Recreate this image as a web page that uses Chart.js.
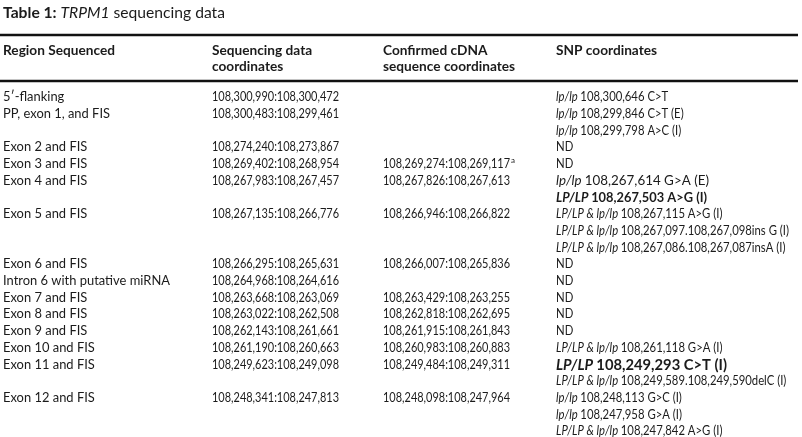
<!DOCTYPE html>
<html>
<head>
<meta charset="utf-8">
<script src="https://cdn.jsdelivr.net/npm/chart.js"></script>
<style>
html, body { margin: 0; padding: 0; background: #fff; }
#wrap { width: 802px; height: 437px; }
</style>
</head>
<body>
<div id="wrap"><canvas id="tbl"></canvas></div>
<script>
// title parts: label, gene, rest
var titleParts = ["Table 1:", "TRPM1", "sequencing data"];
// column headers (one or two lines)
var headers = [
    ["Region Sequenced"],
    ["Sequencing data", "coordinates"],
    ["Confirmed cDNA", "sequence coordinates"],
    ["SNP coordinates"]
];
// rows
var regions = [
    "5′-flanking",
    "PP, exon 1, and FIS",
    "Exon 2 and FIS",
    "Exon 3 and FIS",
    "Exon 4 and FIS",
    "Exon 5 and FIS",
    "Exon 6 and FIS",
    "Intron 6 with putative miRNA",
    "Exon 7 and FIS",
    "Exon 8 and FIS",
    "Exon 9 and FIS",
    "Exon 10 and FIS",
    "Exon 11 and FIS",
    "Exon 12 and FIS"
];
var seqCoords = [
    "108,300,990:108,300,472",
    "108,300,483:108,299,461",
    "108,274,240:108,273,867",
    "108,269,402:108,268,954",
    "108,267,983:108,267,457",
    "108,267,135:108,266,776",
    "108,266,295:108,265,631",
    "108,264,968:108,264,616",
    "108,263,668:108,263,069",
    "108,263,022:108,262,508",
    "108,262,143:108,261,661",
    "108,261,190:108,260,663",
    "108,249,623:108,249,098",
    "108,248,341:108,247,813"
];
var cdnaCoords = [
    "",
    "",
    "",
    "108,269,274:108,269,117",
    "108,267,826:108,267,613",
    "108,266,946:108,266,822",
    "108,266,007:108,265,836",
    "",
    "108,263,429:108,263,255",
    "108,262,818:108,262,695",
    "108,261,915:108,261,843",
    "108,260,983:108,260,883",
    "108,249,484:108,249,311",
    "108,248,098:108,247,964"
];
var cdnaNotes = ["", "", "", "a", "", "", "", "", "", "", "", "", "", ""];
var snpCoords = [
    ["lp/lp 108,300,646 C>T"],
    ["lp/lp 108,299,846 C>T (E)", "lp/lp 108,299,798 A>C (I)"],
    ["ND"],
    ["ND"],
    ["lp/lp 108,267,614 G>A (E)", "LP/LP 108,267,503 A>G (I)"],
    ["LP/LP & lp/lp 108,267,115 A>G (I)",
     "LP/LP & lp/lp 108,267,097.108,267,098ins G (I)",
     "LP/LP & lp/lp 108,267,086.108,267,087insA (I)"],
    ["ND"],
    ["ND"],
    ["ND"],
    ["ND"],
    ["ND"],
    ["LP/LP & lp/lp 108,261,118 G>A (I)"],
    ["LP/LP 108,249,293 C>T (I)", "LP/LP & lp/lp 108,249,589.108,249,590delC (I)"],
    ["lp/lp 108,248,113 G>C (I)", "lp/lp 108,247,958 G>A (I)", "LP/LP & lp/lp 108,247,842 A>G (I)"]
];

var FONT = "Lato";
var INK = "#1b1b1b";
var colX = [3, 212, 383, 556];
// emphasised SNP lines: [row, line, size, bold, width]
var emphasis = [[4, 0, 13.5, false, 153], [4, 1, 12.5, true, 151], [12, 0, 16, true, 171]];

function runsWidth(ctx, runs) {
    var w = 0;
    runs.forEach(function (r) { ctx.font = r.font; w += ctx.measureText(r.text).width; });
    return w;
}

// draw text runs squeezed horizontally by sx (the original face is narrower than Lato)
function drawRuns(ctx, runs, px, py, sx) {
    sx = sx || 1;
    var cx = 0;
    ctx.save();
    ctx.translate(px, py);
    ctx.scale(sx, 1);
    runs.forEach(function (r) {
        ctx.font = r.font;
        ctx.fillText(r.text, cx, 0);
        cx += ctx.measureText(r.text).width;
    });
    ctx.restore();
    return px + cx * sx;
}

function snpRuns(s, size, bold) {
    var w = bold ? "bold " : "";
    var m = s.match(/^(LP\/LP & lp\/lp|LP\/LP|lp\/lp) (.*)$/);
    if (!m) return [{ text: s, font: w + size + "px " + FONT }];
    return [
        { text: m[1] + " ", font: "italic " + w + size + "px " + FONT },
        { text: m[2], font: w + size + "px " + FONT }
    ];
}

var tablePlugin = {
    id: "tableText",
    beforeDraw: function (chart) {
        var ctx = chart.ctx;
        ctx.save();
        ctx.fillStyle = "#fff";
        ctx.fillRect(0, 0, chart.width, chart.height);
        ctx.restore();
    },
    afterDraw: function (chart) {
        var ctx = chart.ctx, xs = chart.scales.x, ys = chart.scales.y;
        var BODY = "12.5px " + FONT, HEAD = "bold 12.5px " + FONT;
        ctx.save();
        ctx.fillStyle = INK;
        ctx.textBaseline = "middle";

        var titleRuns = [
            { text: titleParts[0] + " ", font: "bold 16px " + FONT },
            { text: titleParts[1], font: "italic 16px " + FONT },
            { text: " " + titleParts[2], font: "16px " + FONT }
        ];
        var sxTitle = 222 / runsWidth(ctx, titleRuns);
        var sxHead = 112 / runsWidth(ctx, [{ text: headers[0][0], font: HEAD }]);
        var sxReg = 167 / runsWidth(ctx, [{ text: regions[7], font: BODY }]);
        var sxNum = 127 / runsWidth(ctx, [{ text: seqCoords[3], font: BODY }]);
        var sxSnp = 233 / runsWidth(ctx, snpRuns(snpCoords[5][1], 12.5, false));

        // title
        drawRuns(ctx, titleRuns, xs.getPixelForValue(colX[0]), ys.getPixelForValue(-5.05), sxTitle);

        // rules
        ctx.strokeStyle = "#111";
        ctx.lineWidth = 2.5;
        [-3.76, -0.97].forEach(function (v) {
            var py = Math.round(ys.getPixelForValue(v));
            ctx.beginPath();
            ctx.moveTo(xs.getPixelForValue(0), py);
            ctx.lineTo(xs.getPixelForValue(798), py);
            ctx.stroke();
        });

        // headers
        headers.forEach(function (h, c) {
            h.forEach(function (line, k) {
                drawRuns(ctx, [{ text: line, font: HEAD }],
                    xs.getPixelForValue(colX[c]), ys.getPixelForValue(-2.79 + k), sxHead);
            });
        });

        // body
        var lineNo = 0;
        regions.forEach(function (reg, r) {
            var py = ys.getPixelForValue(lineNo);
            drawRuns(ctx, [{ text: reg, font: BODY }], xs.getPixelForValue(colX[0]), py, sxReg);
            drawRuns(ctx, [{ text: seqCoords[r], font: BODY }], xs.getPixelForValue(colX[1]), py, sxNum);
            if (cdnaCoords[r]) {
                var end = drawRuns(ctx, [{ text: cdnaCoords[r], font: BODY }], xs.getPixelForValue(colX[2]), py, sxNum);
                if (cdnaNotes[r]) drawRuns(ctx, [{ text: cdnaNotes[r], font: "8px " + FONT }], end + 1, py - 4);
            }
            snpCoords[r].forEach(function (s, k) {
                var runs = snpRuns(s, 12.5, false), sx = sxSnp;
                emphasis.forEach(function (e) {
                    if (e[0] === r && e[1] === k) {
                        runs = snpRuns(s, e[2], e[3]);
                        sx = e[4] / runsWidth(ctx, runs);
                    }
                });
                drawRuns(ctx, runs, xs.getPixelForValue(colX[3]), ys.getPixelForValue(lineNo + k), sx);
            });
            lineNo += Math.max(1, snpCoords[r].length);
        });
        ctx.restore();
    }
};

var ctx = document.getElementById("tbl");
var tbl = new Chart(ctx, {
    type: "scatter",
    data: { datasets: [] },
    options: {
        responsive: true,
        maintainAspectRatio: false,
        animation: false,
        layout: { padding: 0 },
        plugins: { legend: { display: false }, tooltip: { enabled: false } },
        scales: {
            x: { type: "linear", min: 0, max: 802, display: false },
            y: { type: "linear", min: -5.83, max: 20.34, reverse: true, display: false }
        }
    },
    plugins: [tablePlugin]
});
</script>
</body>
</html>
